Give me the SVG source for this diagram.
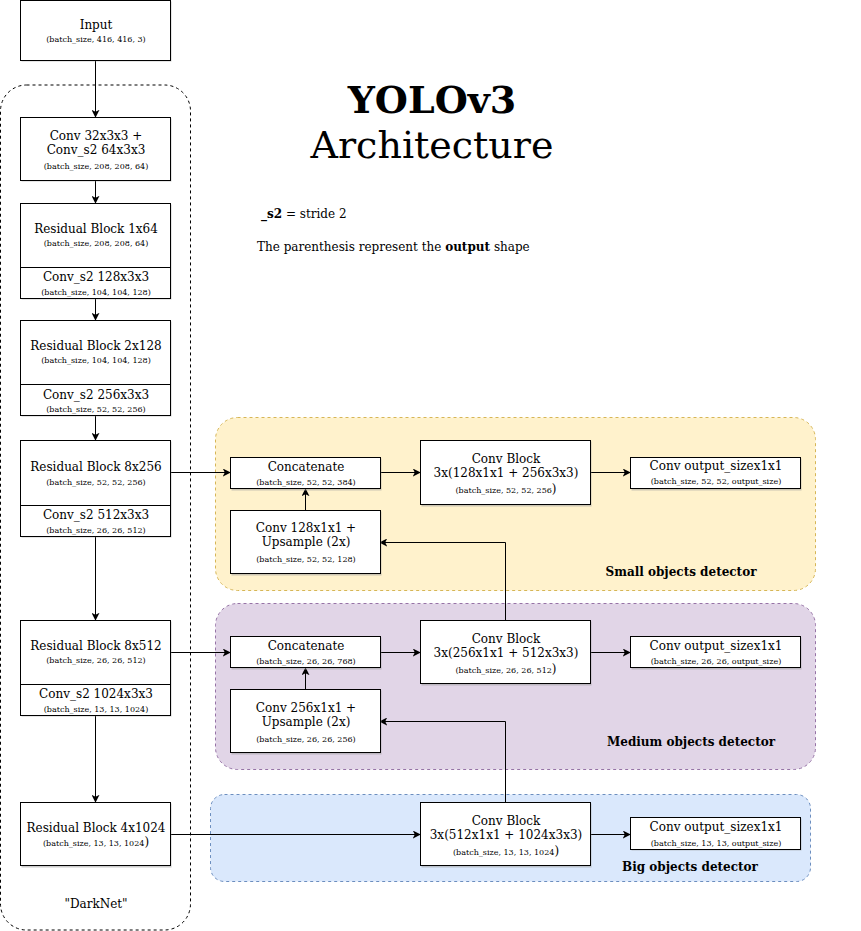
<svg xmlns="http://www.w3.org/2000/svg" width="861" height="931" viewBox="0 0 861 931">
<defs>
<style>
text{font-family:"DejaVu Serif","Liberation Serif",serif;fill:#000;text-anchor:middle}
.t{font-size:12px}
.s{font-size:8px}
.b{stroke:#000;stroke-width:1;fill:#fff}
.sh{fill:#999;opacity:0.5}
.c{stroke:#000;stroke-width:1;fill:none;marker-end:url(#ah)}
.lab{font-size:12px;font-weight:bold}
</style>
<marker id="ah" viewBox="0 0 10 10" refX="9" refY="5" markerWidth="8" markerHeight="8" markerUnits="userSpaceOnUse" orient="auto">
<path d="M0,0 L10,5 L0,10 L2.5,5 z" fill="#000"/>
</marker>
</defs>
<rect width="861" height="931" fill="#fff"/>

<g id="title">
<text x="432" y="113" style="font-size:38px;font-weight:bold">YOLOv3</text>
<text x="432" y="158" style="font-size:38px">Architecture</text>
<text x="261" y="218" class="t" style="text-anchor:start"><tspan font-weight="bold">_s2</tspan> = stride 2</text>
<text x="257" y="251" class="t" style="text-anchor:start">The parenthesis represent the <tspan font-weight="bold">output</tspan> shape</text>
</g>

<g id="darknet">
<rect x="0.5" y="85" width="190" height="845" rx="26" fill="none" stroke="#000" stroke-dasharray="3,3"/>
<text x="96" y="908" class="t">"DarkNet"</text>
</g>

<g id="small-region">
<rect x="215.5" y="417.5" width="600" height="173" rx="22" fill="#fff2cc" stroke="#d6b656" stroke-dasharray="3,3"/>
<text x="681" y="576" class="lab">Small objects detector</text>
</g>
<g id="medium-region">
<rect x="215.5" y="603.5" width="600" height="166" rx="22" fill="#e1d5e7" stroke="#9673a6" stroke-dasharray="3,3"/>
<text x="691" y="746" class="lab">Medium objects detector</text>
</g>
<g id="big-region">
<rect x="210.5" y="794.5" width="600" height="87" rx="14" fill="#dae8fc" stroke="#6c8ebf" stroke-dasharray="3,3"/>
<text x="690" y="871" class="lab">Big objects detector</text>
</g>

<g id="connectors">
<path class="c" d="M95.5,60 V117"/>
<path class="c" d="M95.5,180 V203"/>
<path class="c" d="M95.5,298 V320"/>
<path class="c" d="M95.5,416 V440"/>
<path class="c" d="M95.5,537 V620"/>
<path class="c" d="M95.5,716 V802"/>
<path class="c" d="M170,472.5 H230"/>
<path class="c" d="M380,472.5 H420"/>
<path class="c" d="M590,472.5 H630"/>
<path class="c" d="M305.5,510 V489"/>
<path class="c" d="M505.5,620 V542.5 H380"/>
<path class="c" d="M170,652.5 H230"/>
<path class="c" d="M380,652.5 H420"/>
<path class="c" d="M590,652.5 H630"/>
<path class="c" d="M305.5,689 V668"/>
<path class="c" d="M505.5,802 V721.5 H380"/>
<path class="c" d="M170,834.5 H420"/>
<path class="c" d="M590,834.5 H630"/>
</g>

<g id="input">
<rect class="sh" x="21.5" y="1.5" width="150" height="60"/>
<rect class="b" x="20.5" y="0.5" width="150" height="60"/>
<text x="96" y="29" class="t">Input</text>
<text x="96" y="42" class="s">(batch_size, 416, 416, 3)</text>
</g>

<g id="conv1">
<rect class="sh" x="21.5" y="118.5" width="150" height="63"/>
<rect class="b" x="20.5" y="117.5" width="150" height="63"/>
<text x="96" y="140" class="t">Conv 32x3x3 +</text>
<text x="96" y="154" class="t">Conv_s2 64x3x3</text>
<text x="96" y="169" class="s">(batch_size, 208, 208, 64)</text>
</g>

<g id="res1">
<rect class="sh" x="21.5" y="204.5" width="150" height="95"/>
<rect class="b" x="20.5" y="203.5" width="150" height="64"/>
<rect class="b" x="20.5" y="267.5" width="150" height="31"/>
<text x="96" y="233" class="t">Residual Block 1x64</text>
<text x="96" y="246" class="s">(batch_size, 208, 208, 64)</text>
<text x="96" y="281" class="t">Conv_s2 128x3x3</text>
<text x="96" y="295" class="s">(batch_size, 104, 104, 128)</text>
</g>

<g id="res2">
<rect class="sh" x="21.5" y="321.5" width="150" height="95"/>
<rect class="b" x="20.5" y="320.5" width="150" height="64"/>
<rect class="b" x="20.5" y="384.5" width="150" height="31"/>
<text x="96" y="350" class="t">Residual Block 2x128</text>
<text x="96" y="363" class="s">(batch_size, 104, 104, 128)</text>
<text x="96" y="399" class="t">Conv_s2 256x3x3</text>
<text x="96" y="412" class="s">(batch_size, 52, 52, 256)</text>
</g>

<g id="res8-256">
<rect class="sh" x="21.5" y="441.5" width="150" height="96"/>
<rect class="b" x="20.5" y="440.5" width="150" height="65"/>
<rect class="b" x="20.5" y="505.5" width="150" height="31"/>
<text x="96" y="471" class="t">Residual Block 8x256</text>
<text x="96" y="485" class="s">(batch_size, 52, 52, 256)</text>
<text x="96" y="519" class="t">Conv_s2 512x3x3</text>
<text x="96" y="533" class="s">(batch_size, 26, 26, 512)</text>
</g>

<g id="res8-512">
<rect class="sh" x="21.5" y="621.5" width="150" height="95"/>
<rect class="b" x="20.5" y="620.5" width="150" height="64"/>
<rect class="b" x="20.5" y="684.5" width="150" height="31"/>
<text x="96" y="650" class="t">Residual Block 8x512</text>
<text x="96" y="663" class="s">(batch_size, 26, 26, 512)</text>
<text x="96" y="698" class="t">Conv_s2 1024x3x3</text>
<text x="96" y="712" class="s">(batch_size, 13, 13, 1024)</text>
</g>

<g id="res4-1024">
<rect class="sh" x="21.5" y="803.5" width="150" height="64"/>
<rect class="b" x="20.5" y="802.5" width="150" height="63"/>
<text x="96" y="832" class="t">Residual Block 4x1024</text>
<text x="96" y="846" class="s">(batch_size, 13, 13, 1024<tspan style="font-size:12px">)</tspan></text>
</g>

<g id="concat1">
<rect class="sh" x="231.5" y="458.5" width="150" height="32"/>
<rect class="b" x="230.5" y="457.5" width="150" height="31"/>
<text x="306" y="471" class="t">Concatenate</text>
<text x="306" y="485" class="s">(batch_size, 52, 52, 384)</text>
</g>

<g id="convblock1">
<rect class="sh" x="421.5" y="441.5" width="170" height="65"/>
<rect class="b" x="420.5" y="440.5" width="170" height="64"/>
<text x="506" y="463" class="t">Conv Block</text>
<text x="506" y="477" class="t">3x(128x1x1 + 256x3x3)</text>
<text x="506" y="493" class="s">(batch_size, 52, 52, 256<tspan style="font-size:12px">)</tspan></text>
</g>

<g id="out1">
<rect class="sh" x="631.5" y="458.5" width="170" height="32"/>
<rect class="b" x="630.5" y="457.5" width="170" height="31"/>
<text x="716" y="470" class="t">Conv output_sizex1x1</text>
<text x="716" y="484" class="s">(batch_size, 52, 52, output_size)</text>
</g>

<g id="up1">
<rect class="sh" x="231.5" y="511.5" width="150" height="64"/>
<rect class="b" x="230.5" y="510.5" width="150" height="63"/>
<text x="306" y="532" class="t">Conv 128x1x1 +</text>
<text x="306" y="546" class="t">Upsample (2x)</text>
<text x="306" y="562" class="s">(batch_size, 52, 52, 128)</text>
</g>

<g id="concat2">
<rect class="sh" x="231.5" y="637.5" width="150" height="32"/>
<rect class="b" x="230.5" y="636.5" width="150" height="31"/>
<text x="306" y="650" class="t">Concatenate</text>
<text x="306" y="664" class="s">(batch_size, 26, 26, 768)</text>
</g>

<g id="convblock2">
<rect class="sh" x="421.5" y="621.5" width="170" height="64"/>
<rect class="b" x="420.5" y="620.5" width="170" height="63"/>
<text x="506" y="643" class="t">Conv Block</text>
<text x="506" y="657" class="t">3x(256x1x1 + 512x3x3)</text>
<text x="506" y="673" class="s">(batch_size, 26, 26, 512<tspan style="font-size:12px">)</tspan></text>
</g>

<g id="out2">
<rect class="sh" x="631.5" y="637.5" width="170" height="32"/>
<rect class="b" x="630.5" y="636.5" width="170" height="31"/>
<text x="716" y="650" class="t">Conv output_sizex1x1</text>
<text x="716" y="664" class="s">(batch_size, 26, 26, output_size)</text>
</g>

<g id="up2">
<rect class="sh" x="231.5" y="690.5" width="150" height="64"/>
<rect class="b" x="230.5" y="689.5" width="150" height="63"/>
<text x="306" y="712" class="t">Conv 256x1x1 +</text>
<text x="306" y="726" class="t">Upsample (2x)</text>
<text x="306" y="742" class="s">(batch_size, 26, 26, 256)</text>
</g>

<g id="convblock3">
<rect class="sh" x="421.5" y="803.5" width="170" height="64"/>
<rect class="b" x="420.5" y="802.5" width="170" height="63"/>
<text x="506" y="825" class="t">Conv Block</text>
<text x="506" y="839" class="t">3x(512x1x1 + 1024x3x3)</text>
<text x="506" y="855" class="s">(batch_size, 13, 13, 1024<tspan style="font-size:12px">)</tspan></text>
</g>

<g id="out3">
<rect class="sh" x="631.5" y="818.5" width="170" height="32"/>
<rect class="b" x="630.5" y="817.5" width="170" height="32"/>
<text x="716" y="831" class="t">Conv output_sizex1x1</text>
<text x="716" y="846" class="s">(batch_size, 13, 13, output_size)</text>
</g>
</svg>
